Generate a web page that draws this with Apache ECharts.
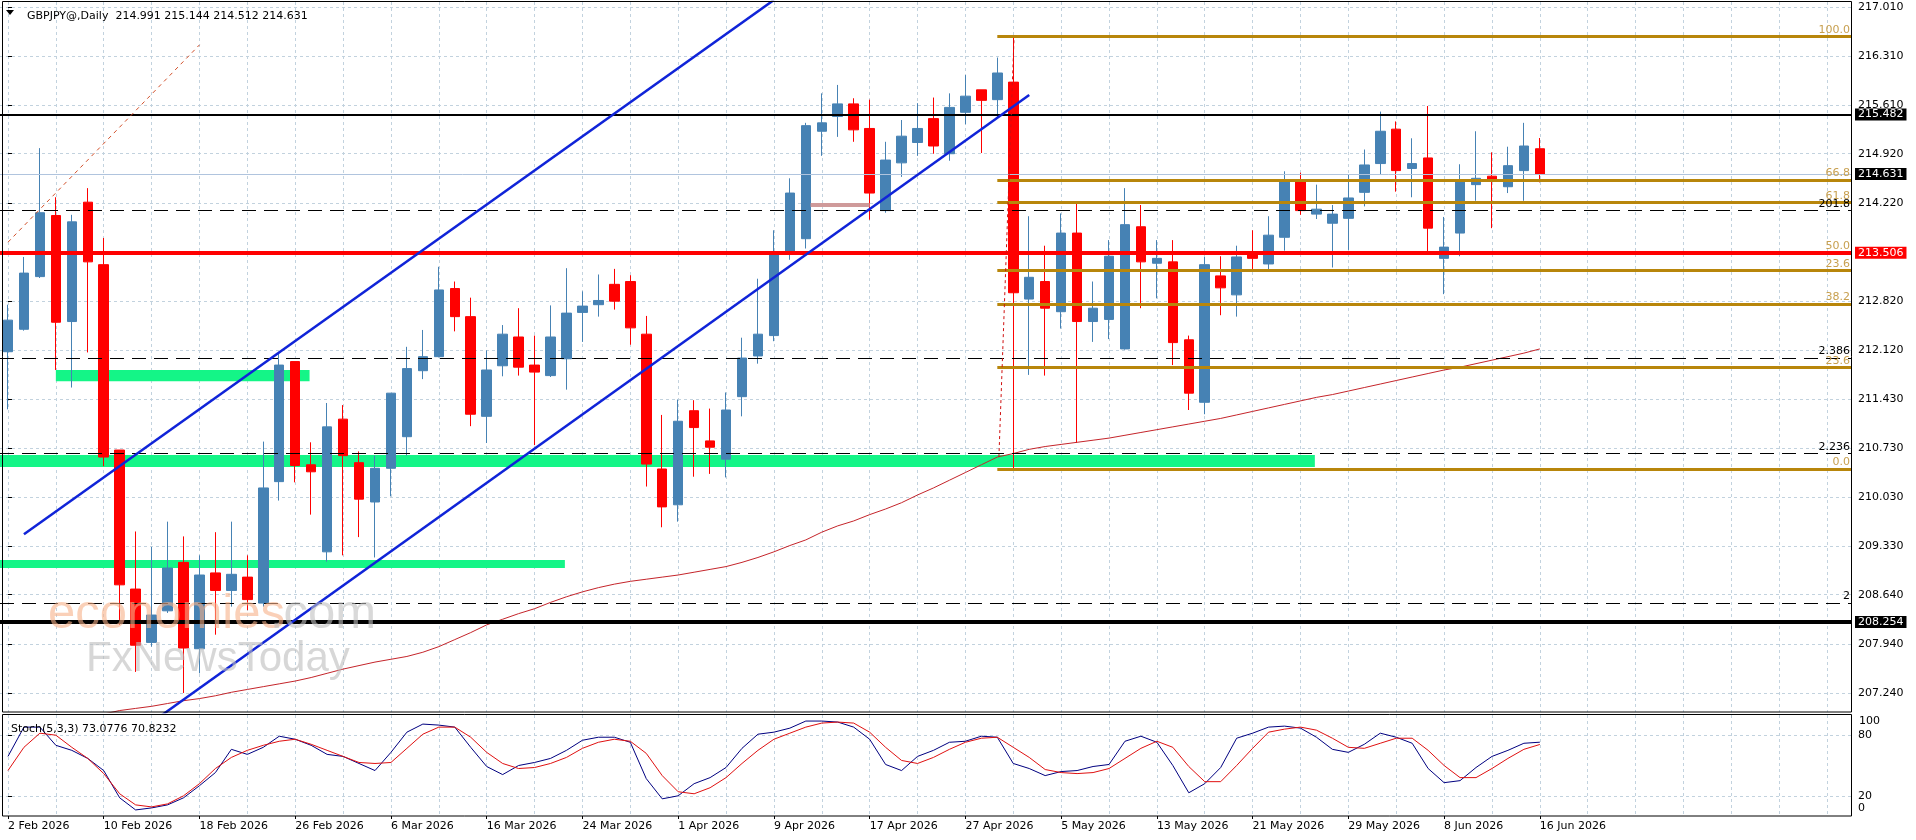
<!DOCTYPE html>
<html>
<head>
<meta charset="utf-8">
<title>GBPJPY Daily</title>
<script src="https://cdn.jsdelivr.net/npm/echarts@6/dist/echarts.min.js"></script>
<style>
  html, body { margin: 0; padding: 0; background: #fff; }
  #chart { width: 1916px; height: 840px; }
</style>
</head>
<body>
<div id="chart"></div>
<script>
// ---- data ----
var months = ['Jan', 'Feb', 'Mar', 'Apr', 'May', 'Jun'];
var dates = [];
(function () {
    // trading days (Mon-Fri) from 2 Feb 2026 to 16 Jun 2026
    var d = new Date(Date.UTC(2026, 1, 2));
    while (dates.length < 97) {
        var wd = d.getUTCDay();
        if (wd !== 0 && wd !== 6) dates.push(d.getUTCDate() + ' ' + months[d.getUTCMonth()] + ' 2026');
        d.setUTCDate(d.getUTCDate() + 1);
    }
})();
var futureSlots = 19;

var opens = [212.10,212.42,213.17,214.04,212.53,214.23,213.34,210.70,208.72,207.96,
    208.41,209.10,207.87,208.95,208.70,208.89,208.52,210.25,211.96,210.49,
    209.25,211.14,210.52,209.96,210.44,210.89,211.83,212.03,213.00,212.60,
    211.18,211.90,212.31,211.91,211.76,212.00,212.66,212.77,213.06,213.10,
    212.35,210.43,209.92,211.26,210.83,210.57,211.46,212.04,212.33,213.53,
    213.71,215.24,215.45,215.63,215.28,214.11,214.79,215.08,215.42,214.92,
    215.51,215.83,215.69,215.94,212.85,213.10,212.67,213.79,212.53,212.56,
    212.14,213.88,213.36,213.38,212.27,211.38,213.18,212.91,213.48,213.35,
    213.73,214.52,214.06,213.93,214.00,214.37,214.78,215.27,214.71,214.86,
    213.43,213.79,214.48,214.60,214.45,214.68,214.991];
var highs = [212.77,213.45,215.00,214.30,214.05,214.43,213.72,210.70,209.54,209.32,
    209.68,209.47,209.20,209.53,209.68,209.20,210.82,212.07,211.96,210.81,
    211.37,211.34,210.68,210.62,211.51,212.17,212.41,213.31,213.10,212.87,
    212.12,212.48,212.72,212.33,212.76,213.29,212.96,213.20,213.28,213.19,
    212.61,211.20,211.42,211.41,211.29,211.52,212.30,213.14,213.83,214.57,
    215.36,215.78,215.90,215.71,215.69,215.09,215.40,215.64,215.72,215.78,
    216.04,215.83,216.29,216.59,214.03,213.61,214.07,214.21,213.10,213.69,
    214.43,214.19,213.69,213.69,212.33,213.45,213.46,213.61,213.83,214.03,
    214.67,214.65,214.48,214.19,214.62,214.98,215.52,215.38,215.14,215.60,
    214.02,214.77,215.24,214.94,215.02,215.36,215.144];
var lows = [211.28,212.40,213.15,211.84,211.59,212.09,210.47,208.21,207.54,207.90,
    208.38,207.24,207.52,208.07,208.47,208.42,208.47,209.98,210.24,209.78,
    209.11,209.20,209.46,209.17,210.04,210.62,211.71,212.02,212.39,211.04,
    210.80,211.75,211.76,210.77,211.74,211.56,212.24,212.60,212.70,212.20,
    210.18,209.60,209.68,210.32,210.36,210.31,211.18,211.93,212.25,213.41,
    213.57,214.89,215.16,215.09,213.98,214.08,214.59,214.89,214.92,214.82,
    215.34,214.93,215.43,210.44,211.77,211.76,212.43,210.80,212.24,212.28,
    212.13,212.72,212.86,211.91,211.27,211.21,212.62,212.60,213.27,213.27,
    213.54,214.05,213.99,213.30,213.55,214.17,214.62,214.38,214.30,213.53,
    212.92,213.46,214.25,213.86,214.36,214.25,214.512];
var closes = [212.55,213.22,214.08,212.52,213.95,213.38,210.60,208.78,207.92,208.35,
    209.02,207.88,208.92,208.70,208.93,208.57,210.16,211.91,210.48,210.39,
    211.03,210.62,210.00,210.44,211.51,211.86,212.03,212.98,212.60,211.21,
    211.84,212.35,211.88,211.81,212.31,212.65,212.75,212.83,212.82,212.44,
    210.50,209.89,211.11,211.02,210.74,211.27,212.01,212.35,213.48,214.36,
    215.32,215.36,215.63,215.26,214.36,214.83,215.17,215.28,215.03,215.58,
    215.74,215.68,216.07,212.94,213.16,212.72,213.79,212.53,212.72,213.46,
    213.91,213.38,213.43,212.23,211.51,213.34,213.01,213.45,213.43,213.76,
    214.52,214.11,214.13,214.06,214.29,214.76,215.24,214.68,214.78,213.86,
    213.59,214.52,214.57,214.56,214.75,215.03,214.631];

var maValues = [206.70,206.74,206.78,206.82,206.86,206.90,206.94,206.99,207.02,207.05,
    207.09,207.13,207.16,207.20,207.25,207.29,207.33,207.37,207.41,207.46,
    207.52,207.58,207.63,207.68,207.72,207.76,207.82,207.90,208.00,208.10,
    208.21,208.29,208.37,208.44,208.53,208.61,208.68,208.74,208.79,208.83,
    208.86,208.89,208.92,208.96,209.00,209.04,209.10,209.17,209.25,209.34,
    209.42,209.53,209.62,209.69,209.78,209.86,209.95,210.06,210.16,210.27,
    210.38,210.49,210.60,210.65,210.71,210.75,210.78,210.81,210.84,210.87,
    210.91,210.95,210.99,211.03,211.07,211.11,211.15,211.20,211.25,211.30,
    211.35,211.40,211.45,211.49,211.54,211.59,211.64,211.69,211.74,211.79,
    211.84,211.88,211.93,211.98,212.03,212.08,212.14];

var stochK = [59,88,88,70,65,57,45,18,6,8,
    11,18,30,43,66,61,68,79,76,70,
    61,59,52,45,63,83,91,90,88,68,
    49,41,50,53,57,65,75,78,78,73,
    37,17,20,32,38,48,67,81,83,87,
    94,94,93,88,76,51,45,59,65,73,
    74,79,78,52,47,40,44,45,49,51,
    74,79,73,50,23,32,48,77,82,88,
    89,87,78,66,63,71,82,78,72,47,
    33,35,48,59,65,72,73.08];
var stochD = [45,68,82,80,68,57,42,22,11,9,
    12,20,32,47,58,65,70,74,76,71,
    65,59,53,52,53,67,81,88,88,78,
    63,52,47,48,52,58,67,73,76,74,
    62,40,24,22,28,38,52,65,76,82,
    88,92,93,92,83,68,55,52,58,66,
    73,77,78,68,58,46,43,42,43,47,
    57,67,74,68,49,34,34,50,67,83,
    86,88,85,77,68,67,72,77,77,65,
    50,38,38,47,57,66,70.82];

var priceTicks = [207.24,207.94,208.64,209.33,210.03,210.73,211.43,212.12,212.82,213.52,214.22,214.92,215.61,216.31,217.01];
var priceLabelValues = [207.24,207.94,208.64,209.33,210.03,210.73,211.43,212.12,212.82,214.22,214.92,215.61,216.31,217.01];
var stochTicks = [20, 80];
var stochLabelPos = [8, 20, 80];
var stochLabelText = ['0', '20', '80'];
var stochTopLabel = '100';

// horizontal levels
var lastPrice = 214.631;
var resistance = 215.482;
var pivot = 213.506;
var support = 208.254;
var fibStart = 62;
var fibLevels = [216.59, 214.546, 214.23, 213.51, 213.26, 212.78, 211.88, 210.43];
var fibLabels = ['100.0', '66.8', '61.8', '50.0', '23.6', '38.2', '23.6', '0.0'];
var expLevels = [214.109, 212.007, 210.654, 208.517];
var expLabels = ['201.8', '2.386', '2.236', '2'];

// zones: [fromBar, toBar, lowPrice, highPrice]
var zones = [[3, 18.9, 211.68, 211.84], [-0.5, 81.9, 210.46, 210.63], [-0.5, 34.9, 209.02, 209.135]];

// drawn lines: [bar, price] pairs
var channelUpper = [[1, 209.50], [48, 217.11]];
var channelLower = [[9, 206.82], [64, 215.757]];
var trendDashed = [[0, 213.66], [12, 216.47]];
var fibConnector = [[62.1, 210.60], [63.05, 216.58]];
var smallBox = [[50.3, 214.19], [54, 214.19]];

var gridCols = [];
for (var g = 0; g <= 114; g += 3) gridCols.push(g);

// ---- build ----
var cats = dates.slice();
for (var f = 0; f < futureSlots; f++) cats.push('_' + f);

var candles = [];
for (var i = 0; i < opens.length; i++) candles.push([opens[i], closes[i], lows[i], highs[i]]);

var FONT = 'DejaVu Sans';
var gridLine = { show: true, lineStyle: { color: '#c2d2de', type: [3, 3], width: 1 } };
var labelEvery6 = function (idx) { return idx % 6 === 0 && idx < dates.length; };

var levelLines = [];
for (var e = 0; e < expLevels.length; e++) {
    levelLines.push({
        yAxis: expLevels[e],
        lineStyle: { color: '#000', width: 1, type: [14, 8] },
        label: { show: true, position: 'insideEndTop', formatter: expLabels[e], color: '#000', fontSize: 11, fontFamily: FONT, distance: 1 }
    });
}
for (var k = 0; k < fibLevels.length; k++) {
    levelLines.push([
        {
            coord: [fibStart, fibLevels[k]],
            lineStyle: { color: '#b8860b', width: 3, type: 'solid' },
            label: { show: true, position: 'insideEndTop', formatter: fibLabels[k], color: '#c8a050', fontSize: 11, fontFamily: FONT, distance: 1 }
        },
        { coord: [115.5, fibLevels[k]] }
    ]);
}
function boxLabel(text, bg) {
    return { show: true, position: 'end', formatter: text, color: '#fff', backgroundColor: bg,
        padding: [1, 3, 0, 3], fontSize: 11, fontFamily: FONT, distance: 4 };
}
levelLines.push({ yAxis: resistance, lineStyle: { color: '#000', width: 2, type: 'solid' }, label: boxLabel(resistance.toFixed(3), '#000') });
levelLines.push({ yAxis: support, lineStyle: { color: '#000', width: 4, type: 'solid' }, label: boxLabel(support.toFixed(3), '#000') });
levelLines.push({ yAxis: pivot, lineStyle: { color: '#ff0000', width: 4, type: 'solid' }, label: boxLabel(pivot.toFixed(3), '#ff0000') });
levelLines.push({ yAxis: lastPrice, lineStyle: { color: '#b0c4de', width: 1, type: 'solid' }, label: boxLabel(lastPrice.toFixed(3), '#000') });

var zoneAreas = zones.map(function (z) {
    return [{ coord: [z[0], z[3]] }, { coord: [z[1], z[2]] }];
});

function drawnLine(name, pts, color, width, type) {
    return {
        name: name, type: 'line', xAxisIndex: 1, yAxisIndex: 0, data: pts,
        symbol: 'none', silent: true, clip: true, z: 5,
        lineStyle: { color: color, width: width, type: type || 'solid' }
    };
}

var option = {
    animation: false,
    backgroundColor: '#fff',
    textStyle: { fontFamily: FONT },
    title: [
        { text: 'GBPJPY@,Daily  214.991 215.144 214.512 214.631', left: 22, top: 6,
          textStyle: { fontSize: 11, fontWeight: 'normal', color: '#000', fontFamily: FONT } },
        { text: 'Stoch(5,3,3) 73.0776 70.8232', left: 6, top: 719,
          textStyle: { fontSize: 11, fontWeight: 'normal', color: '#000', fontFamily: FONT } }
    ],
    grid: [
        { left: -5, top: 2, width: 1856, height: 710 },
        { left: -5, top: 715, width: 1856, height: 101 }
    ],
    xAxis: [
        { type: 'category', gridIndex: 0, data: cats, boundaryGap: true,
          axisLine: { show: false }, axisTick: { show: false }, axisLabel: { show: false }, splitLine: { show: false } },
        { type: 'value', gridIndex: 0, min: -0.5, max: 115.5,
          axisLine: { show: false }, axisLabel: { show: false },
          axisTick: { show: false, customValues: gridCols }, splitLine: gridLine },
        { type: 'category', gridIndex: 1, data: cats, boundaryGap: true,
          axisLine: { show: false },
          axisTick: { show: true, interval: labelEvery6, alignWithLabel: true, length: 3, lineStyle: { color: '#000' } },
          axisLabel: { interval: labelEvery6, align: 'left', margin: 5, fontSize: 11, color: '#000', fontFamily: FONT,
                       formatter: function (v) { return v.charAt(0) === '_' ? '' : v; } },
          splitLine: { show: false } },
        { type: 'value', gridIndex: 1, min: -0.5, max: 115.5,
          axisLine: { show: false }, axisLabel: { show: false },
          axisTick: { show: false, customValues: gridCols }, splitLine: gridLine }
    ],
    yAxis: [
        { type: 'value', gridIndex: 0, position: 'right', min: 206.969, max: 217.081,
          axisLine: { show: false },
          axisTick: { show: true, length: 4, customValues: priceTicks, lineStyle: { color: '#000' } },
          axisLabel: { customValues: priceLabelValues, margin: 7, fontSize: 11, color: '#000', fontFamily: FONT,
                       hideOverlap: false,
                       formatter: function (v) { return v.toFixed(3); } },
          splitLine: gridLine },
        { type: 'value', gridIndex: 1, position: 'right', min: 0, max: 100,
          axisLine: { show: false },
          axisTick: { show: true, length: 4, customValues: stochTicks, lineStyle: { color: '#000' } },
          axisLabel: { customValues: stochLabelPos, margin: 7, fontSize: 11, color: '#000', fontFamily: FONT,
                       hideOverlap: false,
                       formatter: function (v) { return stochLabelText[stochLabelPos.indexOf(v)]; } },
          splitLine: gridLine }
    ],
    series: [
        { name: 'zones', type: 'line', xAxisIndex: 1, yAxisIndex: 0, data: [], silent: true, z: 1,
          markArea: { silent: true, itemStyle: { color: '#14f587', opacity: 1 }, data: zoneAreas } },
        { name: 'GBPJPY', type: 'candlestick', xAxisIndex: 0, yAxisIndex: 0, data: candles, z: 3,
          barWidth: 10, clip: true,
          itemStyle: { color: '#4682b4', color0: '#ff0000', borderColor: '#4682b4', borderColor0: '#ff0000', borderWidth: 1 } },
        { name: 'MA', type: 'line', xAxisIndex: 0, yAxisIndex: 0, data: maValues, symbol: 'none', z: 4,
          lineStyle: { color: '#c4242a', width: 1 }, silent: true },
        drawnLine('box', smallBox, '#cf9a9a', 4),
        drawnLine('trend', trendDashed, '#d2502a', 1, [4, 4]),
        drawnLine('connector', fibConnector, '#d01010', 1, [3, 3]),
        drawnLine('channelUpper', channelUpper, '#1024d8', 2.5),
        drawnLine('channelLower', channelLower, '#1024d8', 2.5),
        { name: 'levels', type: 'line', xAxisIndex: 1, yAxisIndex: 0, data: [], z: 6, silent: true,
          markLine: { silent: true, symbol: ['none', 'none'], animation: false, data: levelLines } },
        { name: '%K', type: 'line', xAxisIndex: 2, yAxisIndex: 1, data: stochK, symbol: 'none',
          lineStyle: { color: '#000080', width: 1 }, silent: true },
        { name: '%D', type: 'line', xAxisIndex: 2, yAxisIndex: 1, data: stochD, symbol: 'none',
          lineStyle: { color: '#e01010', width: 1 }, silent: true }
    ],
    graphic: [
        { type: 'text', left: 48, top: 590, z: 50, silent: true,
          style: { text: 'economies', fill: '#f6b089', opacity: 0.6, font: '49px "Liberation Sans"' } },
        { type: 'text', left: 270, top: 590, z: 50, silent: true,
          style: { text: '.com', fill: '#c0c0c0', opacity: 0.6, font: '49px "Liberation Sans"' } },
        { type: 'text', left: 86, top: 638, z: 50, silent: true,
          style: { text: 'FxNewsToday', fill: '#bdbdbd', opacity: 0.6, font: '42px "Liberation Sans"' } },
        { type: 'text', left: 1859, top: 716, z: 60, silent: true,
          style: { text: stochTopLabel, fill: '#000', font: '11px "DejaVu Sans"' } },
        { type: 'polygon', z: 60, silent: true, shape: { points: [[6, 10], [14, 10], [10, 15]] }, style: { fill: '#000' } },
        { type: 'rect', z: 60, silent: true, shape: { x: 2.5, y: 1.5, width: 1849, height: 710.5 },
          style: { fill: 'none', stroke: '#000', lineWidth: 1 } },
        { type: 'rect', z: 60, silent: true, shape: { x: 2.5, y: 714.5, width: 1849, height: 101.5 },
          style: { fill: 'none', stroke: '#000', lineWidth: 1 } }
    ]
};

var myChart = echarts.init(document.getElementById('chart'));
myChart.setOption(option);
</script>
</body>
</html>
